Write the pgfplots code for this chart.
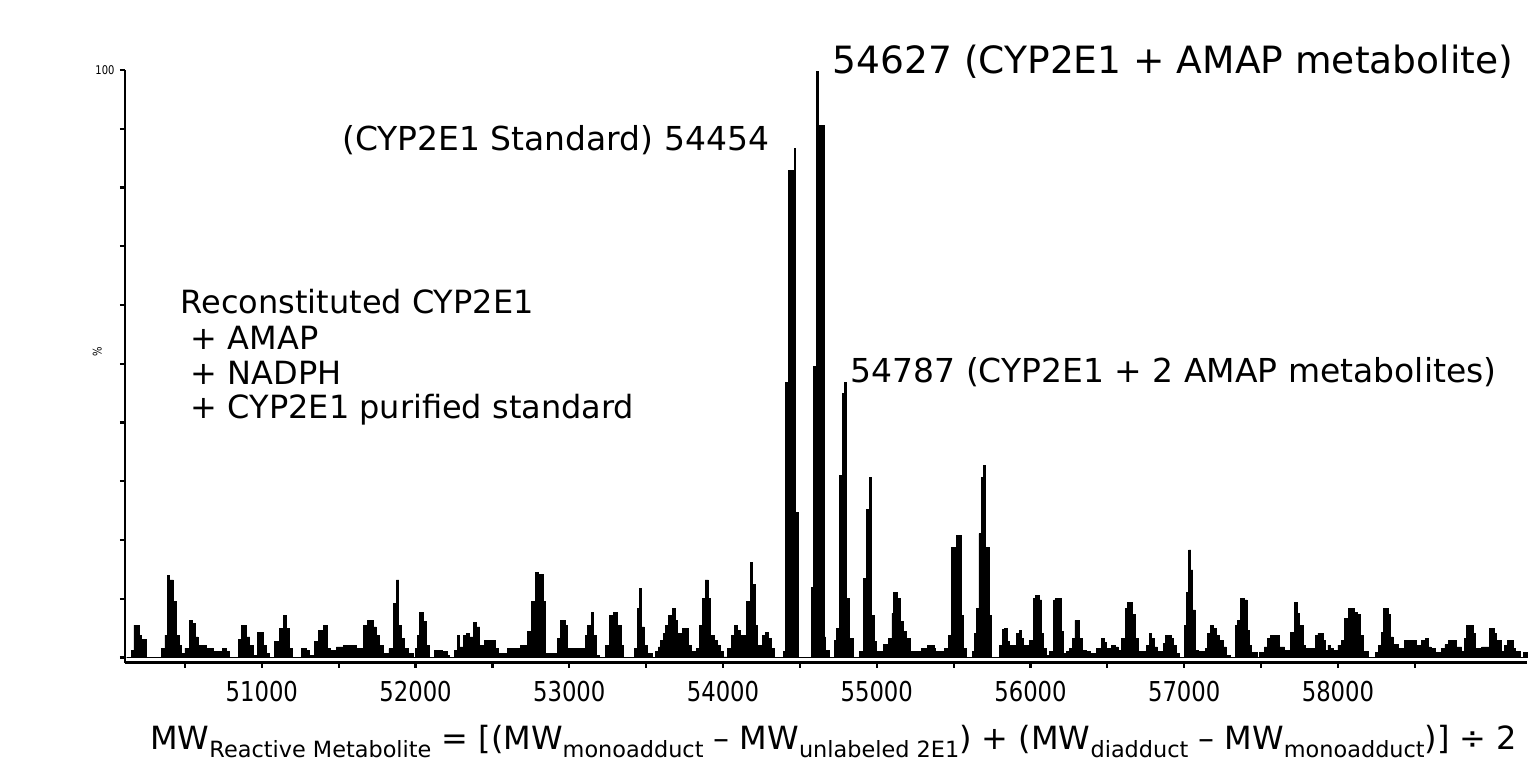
\documentclass[border=0pt]{standalone}
\usepackage{fontspec}
\setmainfont{DejaVu Sans}
\newfontfamily\tickfont[FakeStretch=0.83]{DejaVu Sans}
\usepackage{pgfplots}
\pgfplotsset{compat=1.18}
\newcommand\sub[1]{\raisebox{-4pt}{\fontsize{11.2}{12}\selectfont #1}}
\begin{document}
\begin{tikzpicture}
\begin{axis}[
  scale only axis, width=701.5pt, height=296.5pt,
  xmin=50109, xmax=59229, ymin=-0.85, ymax=100,
  axis x line*=bottom, axis y line*=left,
  axis line style={line width=1.1pt, -},
  scaled x ticks=false,
  xtick={51000,52000,...,58000},
  xticklabels={51000,52000,53000,54000,55000,56000,57000,58000},
  minor xtick={50500,51500,...,58500},
  tick align=outside,
  major tick length=2.5pt, minor tick length=2.5pt,
  every tick/.style={line width=1.1pt, black},
  ytick={0,10,...,100}, yticklabels={},
  xticklabel style={font=\tickfont\fontsize{13.7}{14}\selectfont, yshift=-3.5pt},
  clip=false,
]
\path (axis cs:49297,111.9) rectangle (axis cs:59229,-19.9);
\addplot[const plot, fill=black, draw=black, line width=0.4pt] coordinates {
(50120,0) (50153,1.2) (50168,5.5) (50203,3.8) (50218,3.0) (50250,0) (50348,1.5) (50370,3.8) (50385,14.0) (50402,13.2) (50424,9.5) (50445,3.8) (50461,2.0) (50478,0.7) (50500,1.6) (50532,6.3) (50549,5.8) (50571,3.5) (50586,2.0) (50640,1.6) (50684,1.0) (50744,1.6) (50770,1.0) (50792,0) (50846,3.0) (50868,5.5) (50900,3.5) (50922,2.1) (50944,0.4) (50970,4.2) (51013,2.1) (51030,0.7) (51052,0) (51085,2.7) (51117,5.0) (51139,7.2) (51160,4.9) (51182,1.5) (51199,0) (51258,1.6) (51290,1.2) (51312,0.4) (51345,2.7) (51366,4.6) (51399,5.5) (51425,1.5) (51446,1.2) (51485,1.8) (51529,2.0) (51615,1.6) (51663,5.5) (51685,6.3) (51724,5.2) (51745,3.7) (51767,2.0)
(51794,0.7) (51827,1.5) (51859,9.2) (51876,13.2) (51891,5.5) (51907,3.3) (51928,1.6) (51956,0.7) (51985,0) (52000,1.6) (52015,3.7) (52028,7.7) (52054,6.1) (52071,2.1) (52087,0) (52123,1.2) (52173,1.0) (52206,0.4) (52223,0) (52253,1.2) (52271,3.8) (52288,1.8) (52314,3.7) (52331,4.1) (52353,3.5) (52379,6.0) (52396,5.2) (52418,2.0) (52448,2.9) (52520,1.5) (52541,0.7) (52600,1.6) (52682,2.0) (52730,4.4) (52752,9.5) (52780,14.5) (52801,14.1) (52830,9.5) (52845,0.7) (52925,3.3) (52942,6.3) (52975,5.5) (52990,1.6) (53105,3.7) (53120,5.5) (53142,7.7) (53155,3.7) (53176,0.4) (53198,0) (53235,2.0) (53263,7.2) (53285,7.7) (53315,5.5) (53337,2.0) (53354,0) (53423,1.6) (53441,8.3) (53458,11.8) (53467,5.2) (53488,2.1) (53506,0.7) (53538,0)
(53562,1.0) (53580,1.8) (53595,2.9) (53611,4.1) (53628,5.5) (53646,7.2) (53673,8.4) (53690,6.3) (53706,4.1) (53739,5.0) (53777,2.1) (53794,1.0) (53827,1.5) (53845,5.5) (53867,10.0) (53883,13.2) (53905,10.0) (53920,3.8) (53942,2.9) (53965,2.1) (53982,1.0) (54004,0.1) (54027,1.5) (54053,3.7) (54075,5.5) (54093,4.6) (54111,3.8) (54155,9.5) (54177,16.2) (54192,12.4) (54208,5.5) (54226,2.1) (54259,3.8) (54274,4.3) (54296,3.2) (54314,1.5) (54332,0) (54392,1.0) (54405,46.8) (54425,82.9) (54465,86.7) (54473,24.7) (54491,0) (54575,12.0) (54591,49.5) (54606,99.7) (54619,90.6) (54657,3.5) (54668,1.2) (54690,0) (54723,2.9) (54739,5.0) (54757,31.0) (54774,45.0) (54792,46.8) (54803,10.0) (54823,3.3) (54845,0) (54885,1.0) (54911,13.5) (54933,25.2) (54951,30.6) (54966,7.2) (54982,2.7) (54995,1.0) (55044,2.2) (55077,3.3) (55099,7.5) (55110,11.1) (55137,10.1) (55155,6.1) (55172,4.5) (55195,3.2) (55217,1.0) (55292,1.6) (55332,2.1) (55376,1.6)
(55382,1.0) (55441,1.5) (55469,3.7) (55485,18.7) (55517,20.8) (55550,7.2) (55565,1.5) (55582,0) (55622,1.0) (55637,4.1) (55648,8.4) (55665,21.1) (55680,30.6) (55695,32.7) (55709,18.7) (55730,7.2) (55745,0) (55800,2.1) (55817,4.8) (55832,5.0) (55848,2.7) (55861,2.1) (55909,4.1) (55926,4.6) (55941,3.3) (55956,2.1) (55995,2.9) (56017,10.0) (56035,10.6) (56056,9.8) (56072,4.1) (56087,1.5) (56104,0.4) (56126,1.0) (56152,9.8) (56165,10.1) (56202,4.4) (56213,0.7) (56235,1.0) (56256,1.5) (56274,3.2) (56289,6.3) (56317,3.2) (56339,1.2) (56365,1.0) (56387,0.7) (56430,1.6) (56463,3.2) (56478,2.6) (56496,1.5) (56528,2.1) (56550,1.8) (56572,1.2) (56593,3.2) (56615,8.4) (56630,9.4) (56665,7.3) (56680,3.2) (56702,1.0) (56756,2.1) (56774,4.1) (56789,3.3) (56804,1.8) (56826,1.0) (56865,2.4) (56880,3.8) (56919,3.3) (56930,2.1) (56952,0.7) (56969,0) (57000,5.5) (57013,11.1) (57028,18.3) (57043,14.9) (57056,8.1) (57072,1.2) (57093,1.0) (57137,1.6) (57152,4.1) (57169,5.5) (57187,4.9) (57208,3.8) (57230,2.9) (57252,1.8) (57274,0.4)
(57300,0) (57331,5.4) (57348,6.3) (57366,10.1) (57392,9.8) (57409,4.6) (57424,2.1) (57440,0.9) (57474,0) (57490,0.9) (57522,1.8) (57540,3.2) (57561,3.8) (57620,1.8) (57653,1.2) (57692,4.3) (57718,9.4) (57735,7.5) (57750,5.4) (57772,2.1) (57787,1.6) (57853,3.8) (57870,4.1) (57903,2.9) (57918,1.2) (57935,2.1) (57953,1.6) (57968,1.2) (58000,2.1) (58022,2.9) (58044,6.6) (58066,8.4) (58109,7.7) (58127,7.3) (58148,3.8) (58163,1.0) (58196,0) (58244,0.9) (58266,2.1) (58283,4.3) (58298,8.4) (58327,7.3) (58344,3.5) (58359,2.2) (58392,1.6) (58431,2.9) (58511,2.1) (58544,2.9) (58570,3.3) (58587,1.8) (58605,1.5) (58631,0.9) (58674,1.6) (58696,2.2) (58718,2.9) (58772,1.8) (58805,1.0) (58822,3.2) (58837,5.5) (58881,4.1) (58896,1.6) (58935,1.8) (58983,5.0) (59018,4.1) (59033,2.9) (59061,1.0) (59083,2.0) (59105,2.9) (59142,1.6) (59157,1.0) (59185,0) (59207,0.9) (59229,0.9)
} \closedcycle;
% y-axis labels
\node[anchor=east, inner sep=0, xshift=-5pt, font=\tickfont\fontsize{6}{6}\selectfont] at (axis cs:50109,100) {100};
\node[anchor=center, inner sep=0, rotate=90, font=\tickfont\fontsize{6}{6}\selectfont] at (axis cs:49930,52) {\%};
% annotations
\node[anchor=west, inner sep=0, font=\fontsize{18.8}{20}\selectfont] at (axis cs:54711,101.4) {54627 (CYP2E1 + AMAP metabolite)};
\node[anchor=east, inner sep=0, font=\fontsize{16.5}{18}\selectfont] at (axis cs:54302,88.1) {(CYP2E1 Standard) 54454};
\node[anchor=west, inner sep=0, font=\fontsize{16.5}{18}\selectfont] at (axis cs:54828,48.5) {54787 (CYP2E1 + 2 AMAP metabolites)};
\node[anchor=west, inner sep=0, font=\fontsize{16}{18}\selectfont] at (axis cs:50470,60.5) {Reconstituted CYP2E1};
\node[anchor=west, inner sep=0, font=\fontsize{16}{18}\selectfont] at (axis cs:50470,54.4) {\ + AMAP};
\node[anchor=west, inner sep=0, font=\fontsize{16}{18}\selectfont] at (axis cs:50470,48.5) {\ + NADPH};
\node[anchor=west, inner sep=0, font=\fontsize{16}{18}\selectfont] at (axis cs:50470,42.2) {\ + CYP2E1 purified standard};
% formula
\node[anchor=base west, inner sep=0, font=\fontsize{16}{18}\selectfont] at (axis cs:50272,-15.6) {MW\sub{Reactive Metabolite} = [(MW\sub{monoadduct} – MW\sub{unlabeled 2E1}) + (MW\sub{diadduct} – MW\sub{monoadduct})] ÷ 2};
\end{axis}
\end{tikzpicture}
\end{document}
